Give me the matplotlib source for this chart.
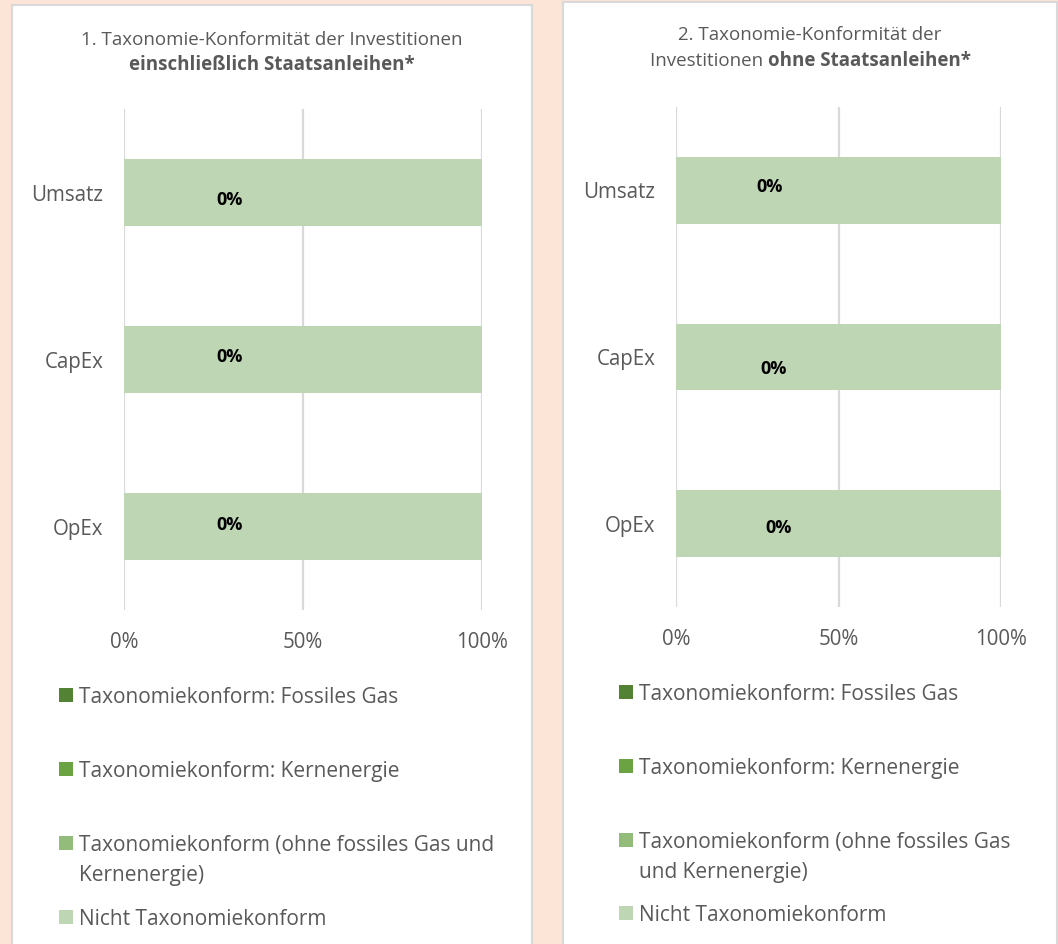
import numpy as np
import matplotlib.pyplot as plt
from matplotlib.patches import Rectangle

plt.rcParams['font.family'] = ['Open Sans', 'DejaVu Sans']

# data
kategorien = ["Umsatz", "CapEx", "OpEx"]
serien = ["Taxonomiekonform: Fossiles Gas",
          "Taxonomiekonform: Kernenergie",
          "Taxonomiekonform (ohne fossiles Gas und Kernenergie)",
          "Nicht Taxonomiekonform"]
werte_1 = [[0, 0, 0], [0, 0, 0], [0, 0, 0], [100, 100, 100]]
werte_2 = [[0, 0, 0], [0, 0, 0], [0, 0, 0], [100, 100, 100]]
xticks = [0, 50, 100]
xtick_labels = ["0%", "50%", "100%"]

farben = ["#548235", "#6BA342", "#93BC7B", "#BFD6B5"]
grau = "#595959"
W, H = 1058, 944

fig = plt.figure(figsize=(W / 100, H / 100), dpi=100)
fig.patch.set_facecolor("#FCE4D6")


def px(x, y):
    return x / W, 1 - y / H


# weisse Panels
for (x0, y0, x1) in [(12, 5, 532), (563, 2, 1057)]:
    fig.patches.append(Rectangle(px(x0, 960), (x1 - x0) / W, (960 - y0) / H,
                                 transform=fig.transFigure, facecolor="white",
                                 edgecolor="#D9D9D9", linewidth=1.5, zorder=-5))


def panel(werte, ax_box, title1, title_norm, title_bold, title_xy,
          label_dx, label_dy, leg_x, leg_rows, leg_texts):
    x0, y0, x1, y1 = ax_box
    ax = fig.add_axes([x0 / W, 1 - y1 / H, (x1 - x0) / W, (y1 - y0) / H])
    ax.set_facecolor("none")
    y = np.arange(len(kategorien))
    links = np.zeros(len(kategorien))
    for s, v in enumerate(werte):
        ax.barh(y, v, left=links, height=0.4, color=farben[s], zorder=2)
        links = links + np.array(v)
    # Beschriftung taxonomiekonform
    for i, v in enumerate(werte[2]):
        ax.annotate(f"{v:.0f}%", (v, y[i]), xytext=(label_dx[i], label_dy[i]),
                    textcoords="offset pixels", ha="center", va="center",
                    fontsize=13, fontweight="bold", color="black", zorder=3)
    ax.set_xlim(0, 100)
    ax.set_ylim(len(kategorien) - 0.5, -0.5)
    ax.set_yticks(y, kategorien)
    ax.set_xticks(xticks, xtick_labels)
    ax.tick_params(axis="both", length=0, colors=grau, labelsize=14.8)
    ax.tick_params(axis="y", pad=15)
    ax.tick_params(axis="x", pad=16)
    ax.grid(axis="x", color="#D9D9D9", linewidth=1.6, zorder=1)
    for sp in ax.spines.values():
        sp.set_visible(False)

    # Titel
    tx, ty1, ty2 = title_xy
    fig.text(*px(tx, ty1), title1, ha="center", va="center", fontsize=13.5, color=grau)
    r = fig.canvas.get_renderer()
    t_n = fig.text(0, 0, title_norm, fontsize=13.5, color=grau, va="center")
    t_b = fig.text(0, 0, title_bold, fontsize=13.5, color=grau, va="center",
                   fontweight="bold")
    wn = t_n.get_window_extent(r).width if title_norm else 0
    wb = t_b.get_window_extent(r).width
    start = tx - (wn + wb) / 2
    t_n.set_position(px(start, ty2))
    t_b.set_position(px(start + wn, ty2))

    # Legende
    for s, (ry, txt) in enumerate(zip(leg_rows, leg_texts)):
        fig.patches.append(Rectangle(px(leg_x - 20, ry + 7), 14 / W, 14 / H,
                                     transform=fig.transFigure,
                                     facecolor=farben[s], edgecolor="none"))
        fig.text(*px(leg_x, ry - 8.4), txt, ha="left", va="top", fontsize=15,
                 color=grau, linespacing=1.58)
    return ax


panel(werte_1, (124, 109, 482, 610),
      "1. Taxonomie-Konformität der Investitionen", "",
      "einschließlich Staatsanleihen*", (272, 40, 65),
      [106, 106, 106], [-7, 3, 2], 79, [695, 769, 843, 917],
      ["Taxonomiekonform: Fossiles Gas", "Taxonomiekonform: Kernenergie",
       "Taxonomiekonform (ohne fossiles Gas und\nKernenergie)",
       "Nicht Taxonomiekonform"])

panel(werte_2, (676, 107, 1001, 607),
      "2. Taxonomie-Konformität der", "Investitionen ",
      "ohne Staatsanleihen*", (810, 35, 61),
      [94, 98, 103], [3, -12, -4], 639, [692, 766, 840, 913],
      ["Taxonomiekonform: Fossiles Gas", "Taxonomiekonform: Kernenergie",
       "Taxonomiekonform (ohne fossiles Gas\nund Kernenergie)",
       "Nicht Taxonomiekonform"])

fig.savefig("out.png", dpi=100)
